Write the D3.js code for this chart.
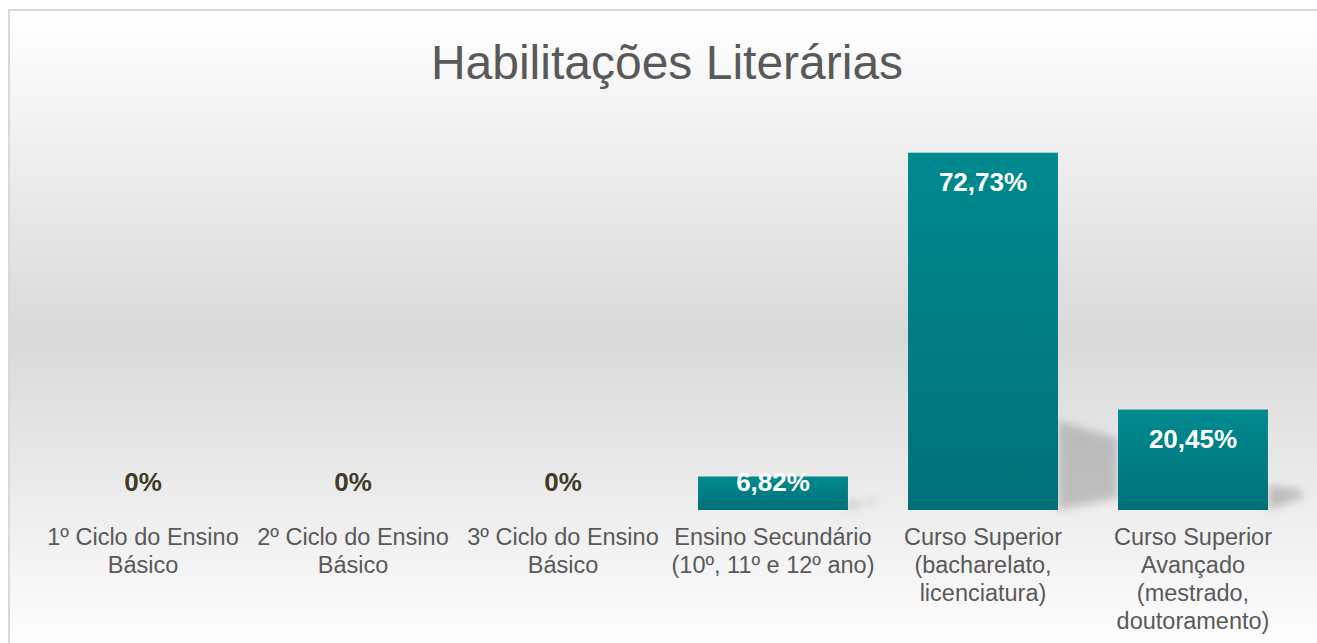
<!DOCTYPE html>
<html>
<head>
<meta charset="utf-8">
<script src="https://cdn.jsdelivr.net/npm/d3@7"></script>
<style>
  body { margin: 0; background: #fff; }
  svg { display: block; font-family: "Liberation Sans", Arial, sans-serif; }
</style>
</head>
<body>
<svg id="chart"></svg>
<script>
const categories = [
    ["1º Ciclo do Ensino", "Básico"],
    ["2º Ciclo do Ensino", "Básico"],
    ["3º Ciclo do Ensino", "Básico"],
    ["Ensino Secundário", "(10º, 11º e 12º ano)"],
    ["Curso Superior", "(bacharelato,", "licenciatura)"],
    ["Curso Superior", "Avançado", "(mestrado,", "doutoramento)"]
];
const values = [0, 0, 0, 6.82, 72.73, 20.45];
const valueLabels = ["0%", "0%", "0%", "6,82%", "72,73%", "20,45%"];

const width = 1317;
const height = 643;

const svg = d3.select("#chart")
    .attr("width", width)
    .attr("height", height);

const defs = svg.append("defs");

const bg = defs.append("linearGradient")
    .attr("id", "bg")
    .attr("x1", 0).attr("y1", 0).attr("x2", 0).attr("y2", 1);
bg.append("stop").attr("offset", "0%").attr("stop-color", "#ffffff");
bg.append("stop").attr("offset", "50%").attr("stop-color", "#d9d9d9");
bg.append("stop").attr("offset", "100%").attr("stop-color", "#ffffff");

const barGrad = defs.append("linearGradient")
    .attr("id", "barGrad")
    .attr("x1", 0).attr("y1", 0).attr("x2", 0).attr("y2", 1);
barGrad.append("stop").attr("offset", "0%").attr("stop-color", "#008a8f");
barGrad.append("stop").attr("offset", "100%").attr("stop-color", "#007077");

defs.append("filter")
    .attr("id", "blur")
    .attr("x", "-50%").attr("y", "-50%").attr("width", "200%").attr("height", "200%")
  .append("feGaussianBlur")
    .attr("stdDeviation", 4);

// chart area background + border (right edge runs off the page)
svg.append("rect")
    .attr("x", 9).attr("y", 10)
    .attr("width", 1320).attr("height", 650)
    .attr("fill", "url(#bg)")
    .attr("stroke", "#d9d9d9")
    .attr("stroke-width", 2);

svg.append("text")
    .attr("x", 667)
    .attr("y", 79)
    .attr("text-anchor", "middle")
    .attr("font-size", 48)
    .attr("fill", "#595959")
    .text("Habilitações Literárias");

const x = d3.scaleBand()
    .domain(d3.range(categories.length))
    .range([38, 1298])
    .paddingInner(0.286)
    .paddingOuter(0.143);

const y = d3.scaleLinear()
    .domain([0, 80])
    .range([510, 117]);

const base = y(0);

// floor shadows
svg.append("g")
    .selectAll("polygon")
    .data(values.map((v, i) => ({ v, i })).filter(d => d.v > 0))
    .join("polygon")
        .attr("points", d => {
            const x1 = x(d.i) + x.bandwidth();
            const h = base - y(d.v);
            const dx = 24 + 0.1 * h;
            return [
                [x1, base - 0.25 * h],
                [x1 + dx, base - 0.2 * h],
                [x1 + dx, base - 12],
                [x1, base]
            ].map(p => p.join(",")).join(" ");
        })
        .attr("fill", "#a0a0a0")
        .attr("opacity", 0.6)
        .attr("filter", "url(#blur)");

svg.append("g")
    .selectAll("rect")
    .data(values)
    .join("rect")
        .attr("x", (d, i) => x(i))
        .attr("y", d => y(d))
        .attr("width", x.bandwidth())
        .attr("height", d => base - y(d))
        .attr("fill", "url(#barGrad)");

svg.append("g")
    .selectAll("text")
    .data(values)
    .join("text")
        .attr("x", (d, i) => x(i) + x.bandwidth() / 2)
        .attr("y", d => Math.min(y(d) + 38, base - 19))
        .attr("text-anchor", "middle")
        .attr("font-size", 26)
        .attr("font-weight", "bold")
        .attr("fill", d => d > 0 ? "#ffffff" : "#403a28")
        .text((d, i) => valueLabels[i]);

const cat = svg.append("g")
    .selectAll("text")
    .data(categories)
    .join("text")
        .attr("x", (d, i) => x(i) + x.bandwidth() / 2)
        .attr("y", 545)
        .attr("text-anchor", "middle")
        .attr("font-size", 23.5)
        .attr("fill", "#595959");

cat.selectAll("tspan")
    .data(d => d)
    .join("tspan")
        .attr("x", function() { return d3.select(this.parentNode).attr("x"); })
        .attr("dy", (d, i) => i === 0 ? 0 : 28)
        .text(d => d);
</script>
</body>
</html>
